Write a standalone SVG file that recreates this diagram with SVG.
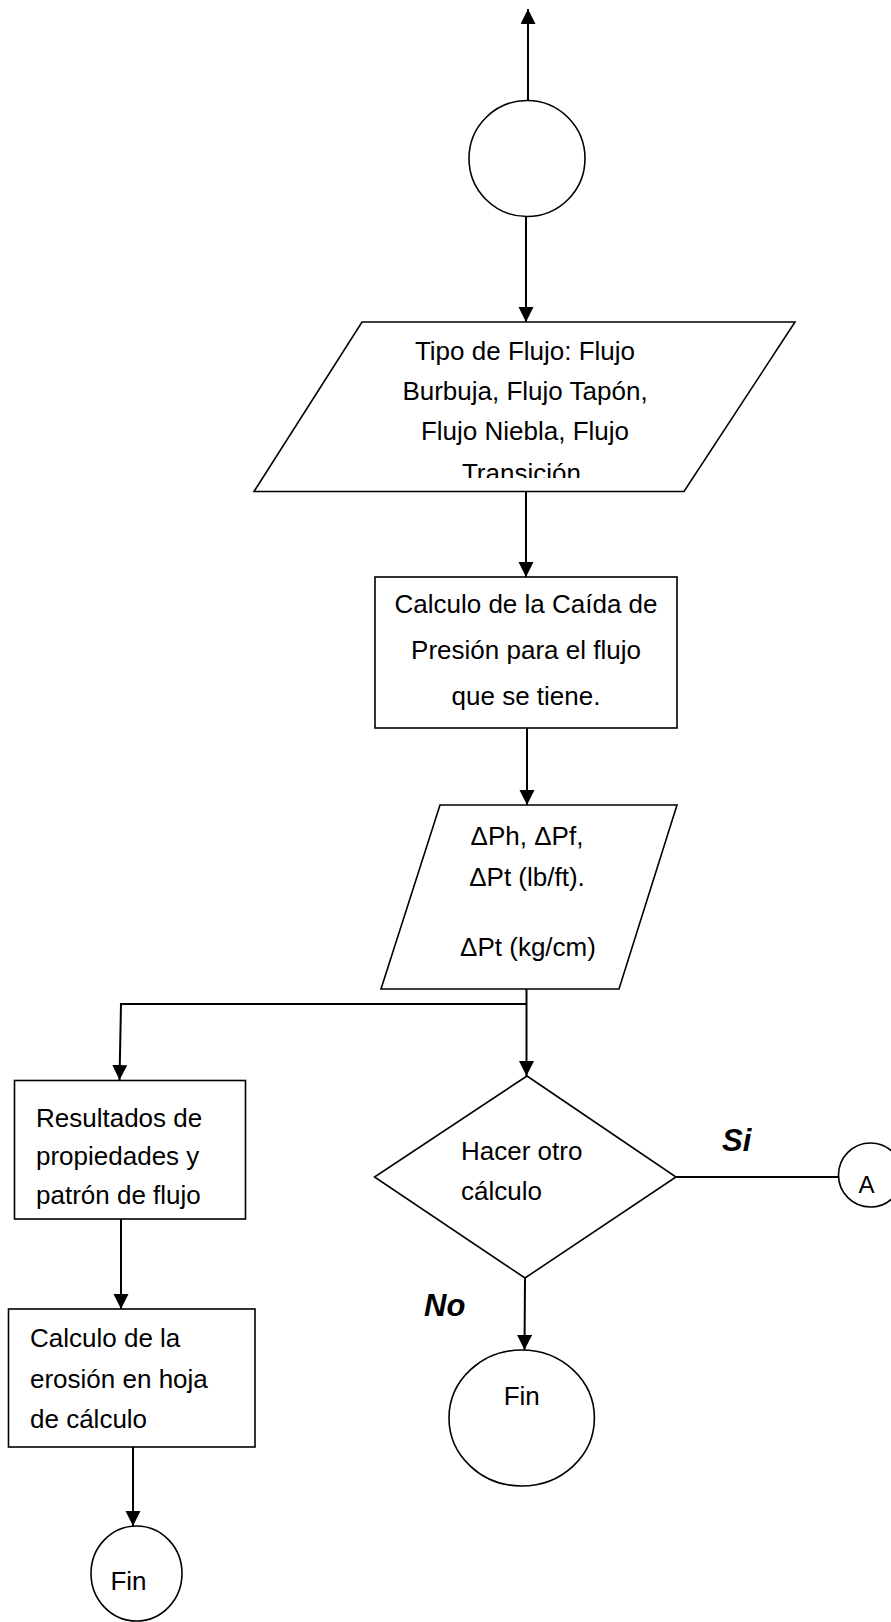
<svg xmlns="http://www.w3.org/2000/svg" width="891" height="1622" viewBox="0 0 891 1622">
<style>
.shape{fill:#fff;stroke:#000;stroke-width:1.6}
.conn{fill:none;stroke:#000;stroke-width:2}
.t{font-family:"Liberation Sans",Arial,sans-serif;font-size:26px;fill:#000}
.c{text-anchor:middle}
.yn{font-family:"Liberation Sans",Arial,sans-serif;font-size:31px;font-weight:bold;font-style:italic;fill:#000}
</style>
<defs>
<marker id="arr" markerUnits="userSpaceOnUse" markerWidth="16" markerHeight="16" refX="15" refY="7.5" orient="auto">
<path d="M0,0 L15,7.5 L0,15 Z" fill="#000"/>
</marker>
<clipPath id="clipT"><rect x="250" y="322" width="550" height="156"/></clipPath>
</defs>
<rect width="891" height="1622" fill="#fff"/>
<g id="connectors">
<line class="conn" x1="528" y1="100" x2="528" y2="9" marker-end="url(#arr)"/>
<line class="conn" x1="526" y1="216" x2="526" y2="322" marker-end="url(#arr)"/>
<line class="conn" x1="526" y1="491.5" x2="526" y2="577" marker-end="url(#arr)"/>
<line class="conn" x1="527" y1="728" x2="527" y2="805" marker-end="url(#arr)"/>
<line class="conn" x1="526.5" y1="989" x2="526.5" y2="1076" marker-end="url(#arr)"/>
<polyline class="conn" points="526.5,1004 121,1004 119.5,1080" marker-end="url(#arr)"/>
<line class="conn" x1="676" y1="1177" x2="838" y2="1177"/>
<line class="conn" x1="525" y1="1278" x2="524.5" y2="1350" marker-end="url(#arr)"/>
<line class="conn" x1="121" y1="1219" x2="121" y2="1309" marker-end="url(#arr)"/>
<line class="conn" x1="133" y1="1447" x2="133" y2="1526" marker-end="url(#arr)"/>
</g>
<g id="start">
<circle class="shape" cx="527" cy="158.5" r="58"/>
</g>
<g id="tipo-flujo">
<polygon class="shape" points="362,322 795,322 684,491.5 254,491.5"/>
<g clip-path="url(#clipT)">
<text class="t c" x="525" y="360">Tipo de Flujo: Flujo</text>
<text class="t c" x="525" y="399.5">Burbuja, Flujo Tapón,</text>
<text class="t c" x="525" y="439.5">Flujo Niebla, Flujo</text>
<text class="t c" x="525" y="481.5">Transición.</text>
</g>
</g>
<g id="calculo-caida">
<rect class="shape" x="375" y="577" width="302" height="151"/>
<text class="t c" x="526" y="613">Calculo de la Caída de</text>
<text class="t c" x="526" y="659">Presión para el flujo</text>
<text class="t c" x="526" y="705">que se tiene.</text>
</g>
<g id="presiones">
<polygon class="shape" points="440,805 677,805 619,989 381,989"/>
<text class="t c" x="527" y="845">ΔPh, ΔPf,</text>
<text class="t c" x="527" y="886">ΔPt (lb/ft).</text>
<text class="t c" x="528" y="956">ΔPt (kg/cm)</text>
</g>
<g id="decision">
<polygon class="shape" points="527,1076 676,1177 525,1278 374.5,1177"/>
<text class="t" x="461" y="1160">Hacer otro</text>
<text class="t" x="461" y="1200">cálculo</text>
<text class="yn" x="722" y="1151">Si</text>
<text class="yn" x="424" y="1316">No</text>
</g>
<g id="conector-a">
<circle class="shape" cx="870.5" cy="1175" r="32"/>
<text class="t c" x="866.5" y="1193" style="font-size:24px">A</text>
</g>
<g id="fin-1">
<ellipse class="shape" cx="521.7" cy="1418" rx="72.7" ry="68"/>
<text class="t c" x="521.7" y="1405">Fin</text>
</g>
<g id="resultados">
<rect class="shape" x="14.5" y="1080.5" width="231" height="138.5"/>
<text class="t" x="36" y="1127">Resultados de</text>
<text class="t" x="36" y="1165">propiedades y</text>
<text class="t" x="36" y="1204">patrón de flujo</text>
</g>
<g id="erosion">
<rect class="shape" x="8.5" y="1309" width="246.5" height="138"/>
<text class="t" x="30" y="1347">Calculo de la</text>
<text class="t" x="30" y="1388">erosión en hoja</text>
<text class="t" x="30" y="1428">de cálculo</text>
</g>
<g id="fin-2">
<ellipse class="shape" cx="136.5" cy="1573.5" rx="45.5" ry="47.5"/>
<text class="t c" x="128.5" y="1590">Fin</text>
</g>
</svg>
